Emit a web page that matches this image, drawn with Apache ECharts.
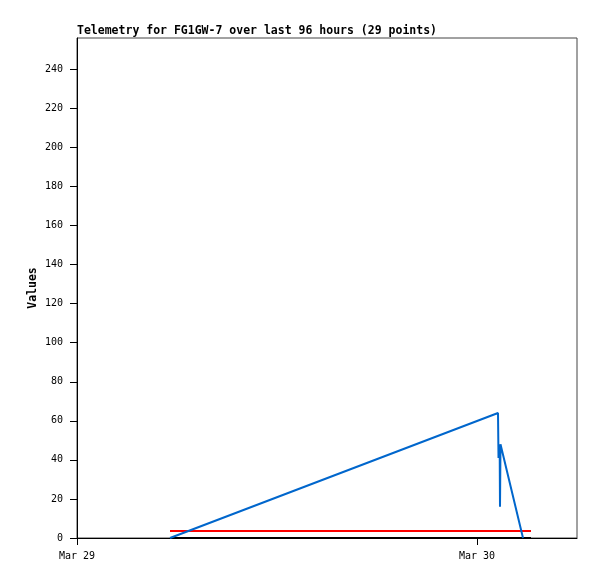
<!DOCTYPE html>
<html>
<head>
<meta charset="utf-8">
<script src="https://cdn.jsdelivr.net/npm/echarts@6/dist/echarts.min.js"></script>
<style>
  html, body { margin: 0; padding: 0; background: #fff; }
  #chart { width: 597px; height: 579px; }
</style>
</head>
<body>
<div id="chart"></div>
<script>
// hours since Mar 29 00:00
var xTicks = [0, 24];
var xTickLabels = ["Mar 29", "Mar 30"];
var yTicks = [0, 20, 40, 60, 80, 100, 120, 140, 160, 180, 200, 220, 240];

var blueHours = [5.58, 25.26, 25.29, 25.36, 25.38, 25.41, 26.76];
var blueValues = [0, 64, 41, 48, 16, 48, 0];
var redHours = [5.58, 27.24];
var redValues = [3.6, 3.6];
var blackHours = [5.58, 27.24];
var blackValues = [0, 0];

var mono = "DejaVu Sans Mono";

function pairs(xs, ys) {
  var out = [];
  for (var i = 0; i < xs.length; i++) out.push([xs[i], ys[i]]);
  return out;
}

var chart = echarts.init(document.getElementById("chart"));
chart.setOption({
  animation: false,
  backgroundColor: "#fff",
  title: {
    text: "Telemetry for FG1GW-7 over last 96 hours (29 points)",
    left: 77,
    top: 25,
    padding: 0,
    textStyle: { fontFamily: mono, fontSize: 11.5, fontWeight: "bold", color: "#000" }
  },
  grid: {
    left: 77, top: 38, right: 20, bottom: 41,
    show: true, borderColor: "#444", borderWidth: 1
  },
  xAxis: {
    type: "value",
    min: 0,
    max: 30,
    axisLine: { show: true, lineStyle: { color: "#000", width: 1 } },
    axisTick: { show: true, length: 7, customValues: xTicks, lineStyle: { color: "#000" } },
    axisLabel: {
      customValues: xTicks,
      margin: 13,
      fontFamily: mono, fontSize: 10, color: "#000",
      formatter: function (v) {
        var i = xTicks.indexOf(v);
        return i >= 0 ? xTickLabels[i] : "";
      }
    },
    splitLine: { show: false }
  },
  yAxis: {
    type: "value",
    min: 0,
    max: 256,
    name: "Values",
    nameLocation: "middle",
    nameGap: 38,
    nameMoveOverlap: false,
    nameTextStyle: { fontFamily: mono, fontSize: 11.5, fontWeight: "bold", color: "#000" },
    axisLine: { show: true, lineStyle: { color: "#000", width: 1 } },
    axisTick: { show: true, length: 7, customValues: yTicks, lineStyle: { color: "#000" } },
    axisLabel: { customValues: yTicks, margin: 14, fontFamily: mono, fontSize: 10, color: "#000" },
    splitLine: { show: false }
  },
  series: [
    {
      type: "line", data: pairs(blackHours, blackValues), showSymbol: false,
      lineStyle: { color: "#000", width: 2 }
    },
    {
      type: "line", data: pairs(redHours, redValues), showSymbol: false,
      lineStyle: { color: "#ff0000", width: 2 }
    },
    {
      type: "line", data: pairs(blueHours, blueValues), showSymbol: false,
      lineStyle: { color: "#0066cc", width: 2 }
    }
  ]
});
</script>
</body>
</html>
